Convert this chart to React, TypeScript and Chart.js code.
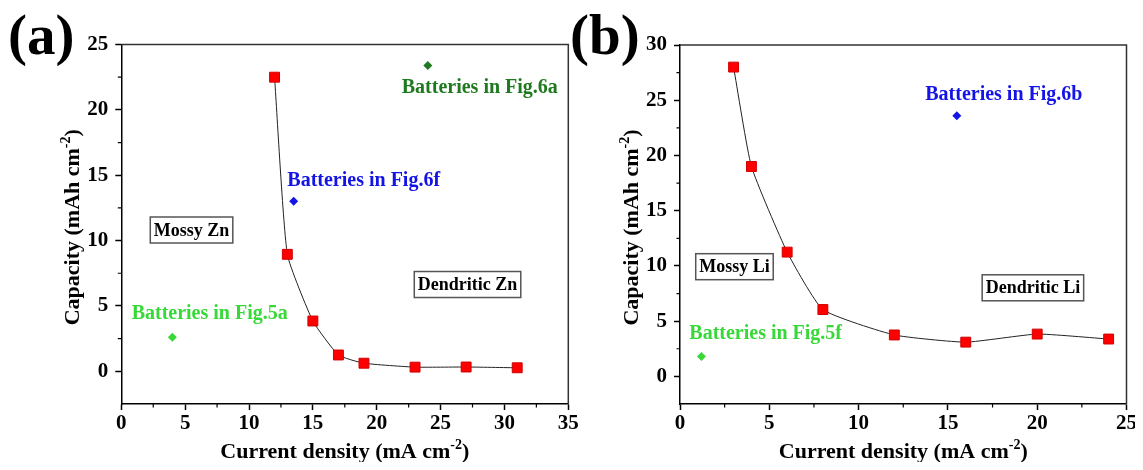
import React, { useEffect, useRef } from 'react';
import { Chart, registerables } from 'chart.js';

Chart.register(...registerables);

const FONT = '"Liberation Serif", "Times New Roman", serif';
const DARK_GREEN = '#1f7a1f';
const BLUE = '#1414e6';
const GREEN = '#38d838';
const RED = '#ff0000';

// ---------- Panel (a): Zn ----------
const znCurrent = [12, 13, 15, 17, 19, 23, 27, 31];
const znCapacity = [22.5, 8.95, 3.85, 1.25, 0.62, 0.32, 0.33, 0.27];
const znFig6aX = [24];
const znFig6aY = [23.4];
const znFig6fX = [13.5];
const znFig6fY = [13.0];
const znFig5aX = [4];
const znFig5aY = [2.6];
const znXTicks = [0, 5, 10, 15, 20, 25, 30, 35];
const znYTicks = [0, 5, 10, 15, 20, 25];
const znXMinor = [2.5, 7.5, 12.5, 17.5, 22.5, 27.5, 32.5];
const znYMinor = [2.5, 7.5, 12.5, 17.5, 22.5];

// ---------- Panel (b): Li ----------
const liCurrent = [3, 4, 6, 8, 12, 16, 20, 24];
const liCapacity = [28.0, 19.0, 11.25, 6.05, 3.75, 3.1, 3.83, 3.38];
const liFig6bX = [15.5];
const liFig6bY = [23.6];
const liFig5fX = [1.2];
const liFig5fY = [1.8];
const liXTicks = [0, 5, 10, 15, 20, 25];
const liYTicks = [0, 5, 10, 15, 20, 25, 30];
const liXMinor = [2.5, 7.5, 12.5, 17.5, 22.5];
const liYMinor = [2.5, 7.5, 12.5, 17.5, 22.5, 27.5];

// annotation anchors (in data units)
const znNotes = [
  { text: 'Batteries in Fig.6a', x: 21.96, y: 21.3, color: DARK_GREEN },
  { text: 'Batteries in Fig.6f', x: 13.0, y: 14.15, color: BLUE },
  { text: 'Batteries in Fig.5a', x: 0.81, y: 4.03, color: GREEN },
];
const znBoxes = [
  { text: 'Mossy Zn', x: 5.5, y: 10.81 },
  { text: 'Dendritic Zn', x: 27.11, y: 6.64 },
];
const liNotes = [
  { text: 'Batteries in Fig.6b', x: 13.73, y: 25.0, color: BLUE },
  { text: 'Batteries in Fig.5f', x: 0.52, y: 3.38, color: GREEN },
];
const liBoxes = [
  { text: 'Mossy Li', x: 3.05, y: 9.93 },
  { text: 'Dendritic Li', x: 19.76, y: 8.02 },
];

type Part = { t: string; sup?: boolean };

function drawRich(ctx: CanvasRenderingContext2D, parts: Part[], x: number, y: number, size: number) {
  const main = `bold ${size}px ${FONT}`;
  const sup = `bold ${Math.round(size * 0.62)}px ${FONT}`;
  let total = 0;
  const widths = parts.map((p) => {
    ctx.font = p.sup ? sup : main;
    const w = ctx.measureText(p.t).width;
    total += w;
    return w;
  });
  let cx = x - total / 2;
  ctx.textAlign = 'left';
  ctx.textBaseline = 'alphabetic';
  parts.forEach((p, i) => {
    ctx.font = p.sup ? sup : main;
    ctx.fillText(p.t, cx, p.sup ? y - size * 0.42 : y);
    cx += widths[i];
  });
}

function makeDecor(cfg: any) {
  return {
    id: 'decor',
    afterDraw(chart: any) {
      const ctx: CanvasRenderingContext2D = chart.ctx;
      const { left, right, top, bottom } = chart.chartArea;
      const xs = chart.scales.x;
      const ys = chart.scales.y;
      ctx.save();
      // top / right frame
      ctx.strokeStyle = '#333';
      ctx.lineWidth = 1.5;
      ctx.beginPath();
      ctx.moveTo(left, top);
      ctx.lineTo(right, top);
      ctx.lineTo(right, bottom);
      ctx.stroke();
      // minor ticks
      ctx.strokeStyle = '#000';
      ctx.lineWidth = 1.2;
      ctx.beginPath();
      cfg.xMinor.forEach((v: number) => {
        const px = xs.getPixelForValue(v);
        ctx.moveTo(px, bottom);
        ctx.lineTo(px, bottom + 3.5);
      });
      cfg.yMinor.forEach((v: number) => {
        const py = ys.getPixelForValue(v);
        ctx.moveTo(left, py);
        ctx.lineTo(left - 3.5, py);
      });
      ctx.stroke();

      // axis titles
      ctx.fillStyle = '#000';
      drawRich(
        ctx,
        [{ t: 'Current density (mA cm' }, { t: '-2', sup: true }, { t: ')' }],
        (left + right) / 2,
        bottom + 54,
        22
      );
      ctx.save();
      ctx.translate(left - 42, (top + bottom) / 2 + 3);
      ctx.rotate(-Math.PI / 2);
      drawRich(ctx, [{ t: 'Capacity (mAh cm' }, { t: '-2', sup: true }, { t: ')' }], 0, 0, 22);
      ctx.restore();

      // panel label
      ctx.font = `bold 57px ${FONT}`;
      ctx.textAlign = 'left';
      ctx.textBaseline = 'alphabetic';
      ctx.fillText(cfg.panel, cfg.panelX, 54);

      // coloured notes
      ctx.font = `bold 20px ${FONT}`;
      cfg.notes.forEach((n: any) => {
        ctx.fillStyle = n.color;
        ctx.fillText(n.text, xs.getPixelForValue(n.x), ys.getPixelForValue(n.y));
      });

      // boxed labels
      ctx.font = `bold 18px ${FONT}`;
      cfg.boxes.forEach((b: any) => {
        const cx = xs.getPixelForValue(b.x);
        const cy = ys.getPixelForValue(b.y);
        const w = ctx.measureText(b.text).width + 7;
        const h = 26;
        ctx.fillStyle = '#fff';
        ctx.fillRect(cx - w / 2, cy - h / 2, w, h);
        ctx.strokeStyle = '#555';
        ctx.lineWidth = 1.5;
        ctx.strokeRect(cx - w / 2, cy - h / 2, w, h);
        ctx.fillStyle = '#000';
        ctx.textAlign = 'center';
        ctx.textBaseline = 'middle';
        ctx.fillText(b.text, cx, cy + 1);
        ctx.textAlign = 'left';
        ctx.textBaseline = 'alphabetic';
      });
      ctx.restore();
    },
  };
}

function pts(xs: number[], ys: number[]) {
  return xs.map((x, i) => ({ x, y: ys[i] }));
}

function diamond(data: any, color: string) {
  return {
    data,
    showLine: false,
    pointStyle: 'rectRot',
    pointRadius: 4.5,
    pointBackgroundColor: color,
    pointBorderColor: color,
    pointBorderWidth: 0,
  };
}

function makeConfig(p: any) {
  return {
    type: 'scatter',
    data: {
      datasets: [
        {
          data: pts(p.curX, p.curY),
          showLine: true,
          borderColor: '#222',
          borderWidth: 1,
          tension: 0.15,
          pointStyle: 'rect',
          pointRadius: 7,
          pointBackgroundColor: RED,
          pointBorderColor: '#d00000',
          pointBorderWidth: 1,
        },
        ...p.extra,
      ],
    },
    options: {
      responsive: false,
      animation: false,
      events: [],
      layout: { padding: p.padding },
      plugins: { legend: { display: false }, tooltip: { enabled: false } },
      scales: {
        x: {
          type: 'linear',
          min: p.xMin,
          max: p.xMax,
          afterBuildTicks: (s: any) => {
            s.ticks = p.xTicks.map((v: number) => ({ value: v }));
          },
          afterFit: (s: any) => {
            s.height = 66;
            s.paddingLeft = 0;
            s.paddingRight = 0;
          },
          border: { display: true, color: '#000', width: 1.5 },
          grid: {
            display: true,
            drawOnChartArea: false,
            drawTicks: true,
            tickLength: 6,
            tickWidth: 1.5,
            color: '#000',
          },
          ticks: {
            color: '#000',
            font: { family: FONT, size: 21, weight: 'bold' },
            padding: 1,
            maxRotation: 0,
            autoSkip: false,
          },
        },
        y: {
          type: 'linear',
          min: p.yMin,
          max: p.yMax,
          afterBuildTicks: (s: any) => {
            s.ticks = p.yTicks.map((v: number) => ({ value: v }));
          },
          afterFit: (s: any) => {
            s.width = p.yWidth;
            s.paddingTop = 0;
            s.paddingBottom = 0;
          },
          border: { display: true, color: '#000', width: 1.5 },
          grid: {
            display: true,
            drawOnChartArea: false,
            drawTicks: true,
            tickLength: 6,
            tickWidth: 1.5,
            color: '#000',
          },
          ticks: {
            color: '#000',
            font: { family: FONT, size: 21, weight: 'bold' },
            padding: 7,
            autoSkip: false,
          },
        },
      },
    },
    plugins: [makeDecor(p.decor)],
  };
}

const W = 1143;
const H = 470;

export default function App() {
  const refA = useRef<HTMLCanvasElement | null>(null);
  const refB = useRef<HTMLCanvasElement | null>(null);

  useEffect(() => {
    const cfgA = makeConfig({
      curX: znCurrent,
      curY: znCapacity,
      extra: [
        diamond(pts(znFig6aX, znFig6aY), DARK_GREEN),
        diamond(pts(znFig6fX, znFig6fY), BLUE),
        diamond(pts(znFig5aX, znFig5aY), GREEN),
      ],
      padding: { left: 0, top: 44.5, right: W - 568.3, bottom: 0 },
      yWidth: 121.3,
      xMin: 0,
      xMax: 35,
      yMin: -2.5,
      yMax: 25,
      xTicks: znXTicks,
      yTicks: znYTicks,
      decor: {
        xMinor: znXMinor,
        yMinor: znYMinor,
        notes: znNotes,
        boxes: znBoxes,
        panel: '(a)',
        panelX: 8,
      },
    });
    const cfgB = makeConfig({
      curX: liCurrent,
      curY: liCapacity,
      extra: [
        diamond(pts(liFig6bX, liFig6bY), BLUE),
        diamond(pts(liFig5fX, liFig5fY), GREEN),
      ],
      padding: { left: 560, top: 45, right: W - 1126.5, bottom: 0 },
      yWidth: 120,
      xMin: 0,
      xMax: 25,
      yMin: -2.5,
      yMax: 30,
      xTicks: liXTicks,
      yTicks: liYTicks,
      decor: {
        xMinor: liXMinor,
        yMinor: liYMinor,
        notes: liNotes,
        boxes: liBoxes,
        panel: '(b)',
        panelX: 570,
      },
    });
    const a = new Chart(refA.current as HTMLCanvasElement, cfgA as any);
    const b = new Chart(refB.current as HTMLCanvasElement, cfgB as any);
    return () => {
      a.destroy();
      b.destroy();
    };
  }, []);

  return (
    <div style={{ position: 'relative', width: W, height: H, margin: -8, background: '#fff' }}>
      <canvas ref={refA} width={W} height={H} style={{ position: 'absolute', left: 0, top: 0 }} />
      <canvas ref={refB} width={W} height={H} style={{ position: 'absolute', left: 0, top: 0 }} />
    </div>
  );
}
